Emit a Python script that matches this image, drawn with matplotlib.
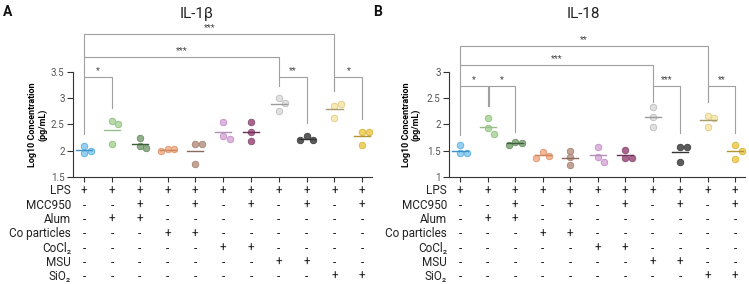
import numpy as np
import matplotlib
matplotlib.use("Agg")
import matplotlib.pyplot as plt
import matplotlib.transforms as mtransforms

plt.rcParams['font.family'] = ['Roboto', 'DejaVu Sans']

# group colours: (fill, edge, mean line)
fills = ['#95d0f0', '#b5dba6', '#8fb08a', '#f5b896', '#c4a394', '#ddb5df',
         '#a8668e', '#e0e0e0', '#5c5c5c', '#f8e8b2', '#f0d264']
edges = ['#5aafe0', '#8dbf7f', '#6a8f66', '#e09570', '#a68476', '#c291c4',
         '#8a4a72', '#bdbdbd', '#3f3f3f', '#e0cb85', '#d6b640']
lines = ['#3f8fc8', '#98bd8a', '#3e5e3a', '#c8845a', '#8b6a5c', '#b28fb4',
         '#6e2e56', '#9a9a9a', '#333333', '#a89a6a', '#b09530']

# IL-1beta (log10 pg/mL), three replicates per group
il1b = [[2.09, 1.96, 2.00],
        [2.57, 2.51, 2.13],
        [2.24, 2.10, 2.05],
        [2.03, 2.03, 1.99],
        [2.12, 2.12, 1.74],
        [2.54, 2.28, 2.23],
        [2.54, 2.35, 2.18],
        [3.01, 2.90, 2.75],
        [2.28, 2.21, 2.21],
        [2.85, 2.89, 2.62],
        [2.36, 2.36, 2.11]]

# IL-18 (log10 pg/mL)
il18 = [[1.61, 1.45, 1.45],
        [2.12, 1.93, 1.82],
        [1.66, 1.65, 1.61],
        [1.47, 1.40, 1.36],
        [1.50, 1.38, 1.23],
        [1.57, 1.39, 1.28],
        [1.52, 1.36, 1.36],
        [2.34, 2.14, 1.95],
        [1.57, 1.57, 1.28],
        [2.17, 2.12, 1.96],
        [1.61, 1.50, 1.35]]

# significance brackets: (x1, x2, top, left leg end, right leg end, label)
brackets_a = [(0, 1, 3.41, 2.32, 2.81, '*'),
              (7, 8, 3.41, 3.24, 2.53, '**'),
              (9, 10, 3.41, 3.13, 2.60, '*'),
              (0, 7, 3.78, 3.41, 3.41, '***'),
              (0, 9, 4.22, 3.78, 3.13, '***')]
brackets_b = [(0, 1, 2.73, 1.80, 2.36, '*'),
              (1.07, 2, 2.73, 2.36, 1.86, '*'),
              (7, 8, 2.73, 2.43, 1.84, '***'),
              (9, 10, 2.73, 2.43, 1.84, '**'),
              (0, 7, 3.13, 2.73, 2.73, '***'),
              (0, 9, 3.50, 3.13, 2.43, '**')]

row_names = ['LPS', 'MCC950', 'Alum', 'Co particles', 'CoCl\u2082', 'MSU', 'SiO\u2082']
treat = [[1, 1, 1, 1, 1, 1, 1, 1, 1, 1, 1],
         [0, 0, 1, 0, 1, 0, 1, 0, 1, 0, 1],
         [0, 1, 1, 0, 0, 0, 0, 0, 0, 0, 0],
         [0, 0, 0, 1, 1, 0, 0, 0, 0, 0, 0],
         [0, 0, 0, 0, 0, 1, 1, 0, 0, 0, 0],
         [0, 0, 0, 0, 0, 0, 0, 1, 1, 0, 0],
         [0, 0, 0, 0, 0, 0, 0, 0, 0, 1, 1]]

W, H = 749, 284
fig = plt.figure(figsize=(W / 100, H / 100), dpi=100)


def swarm(vals, ypx, xpx, d=6.5):
    # simple beeswarm: shift points sideways when they would overlap
    placed = []
    offs = []
    for v in vals:
        for c in [0, d, -d, 2 * d, -2 * d]:
            if all(np.hypot(c - ox, (v - ov) * ypx) >= d * 0.95 for ox, ov in placed):
                break
        placed.append((c, v))
        offs.append(c / xpx)
    return offs


def panel(left_px, right_px, ylim, yticks, ticklabels, data, brackets,
          title, title_x, letter, letter_x, label_x, rows_x):
    top_px, bot_px = 72, 177
    ax = fig.add_axes([left_px / W, 1 - bot_px / H, (right_px - left_px) / W,
                       (bot_px - top_px) / H])
    n = len(data)
    ax.set_xlim(-0.4, n - 1 + 0.35)
    ax.set_ylim(*ylim)
    ypx = (bot_px - top_px) / (ylim[1] - ylim[0])
    xpx = (right_px - left_px) / (n - 1 + 0.75)
    for i, vals in enumerate(data):
        offs = swarm(vals, ypx, xpx)
        ax.scatter(np.array(offs) + i, vals, s=22, color=fills[i],
                   edgecolor=edges[i], linewidth=0.6, zorder=3, clip_on=False)
        m = np.mean(vals)
        ax.plot([i - 0.29, i + 0.29], [m, m], color=lines[i], lw=1.0, zorder=4)

    for x1, x2, top, e1, e2, lab in brackets:
        ax.plot([x1, x1, x2, x2], [e1, top, top, e2], color='#a0a0a0',
                lw=0.8, clip_on=False, zorder=1)
        ax.text((x1 + x2) / 2, top + 0.07, lab, ha='center', va='baseline',
                fontsize=6.5, color='#444444')

    for s in ['top', 'right']:
        ax.spines[s].set_visible(False)
    for s in ['left', 'bottom']:
        ax.spines[s].set_color('#333333')
        ax.spines[s].set_linewidth(0.8)
    ax.set_yticks(yticks)
    ax.set_yticklabels(ticklabels)
    ax.set_xticks(range(n))
    ax.set_xticklabels([])
    ax.tick_params(axis='y', length=4, width=0.8, color='#333333',
                   labelsize=7, labelcolor='#555555', pad=2)
    ax.tick_params(axis='x', length=3.5, width=0.8, color='#333333')
    ax.set_ylabel('Log10 Concentration\n(pg/mL)', fontsize=6.5,
                  fontweight='bold', linespacing=1.1)
    ax.yaxis.set_label_coords(label_x, 0.5)

    # treatment table under the axis
    tr = mtransforms.blended_transform_factory(ax.transData, fig.transFigure)
    for r, name in enumerate(row_names):
        yf = 1 - (191 + r * 14.3) / H
        fig.text(rows_x / W, yf, name, ha='right', va='center', fontsize=8.5,
                 color='#222222')
        for i in range(n):
            ax.text(i, yf, '+' if treat[r][i] else '-', transform=tr,
                    ha='center', va='center', fontsize=8.5, color='#222222')

    fig.text(title_x / W, 1 - 14 / H, title, ha='center', va='center',
             fontsize=11, color='#222222')
    fig.text(letter_x / W, 1 - 12 / H, letter, ha='left', va='center',
             fontsize=10, fontweight='bold', color='#111111')
    return ax


panel(73, 372, (1.5, 3.5), [1.5, 2, 2.5, 3, 3.5], ['1.5', '2', '2.5', '3', '3.5'],
      il1b, brackets_a, 'IL-1\u03b2', 197, 'A', 3, -0.085, 71)
panel(449, 745, (1, 3), [1, 1.5, 2, 2.5, 3], ['1', '1.5', '2', '2.5', '3'],
      il18, brackets_b, 'IL-18', 583, 'B', 373, -0.095, 447)

fig.savefig('out.png', dpi=100)
